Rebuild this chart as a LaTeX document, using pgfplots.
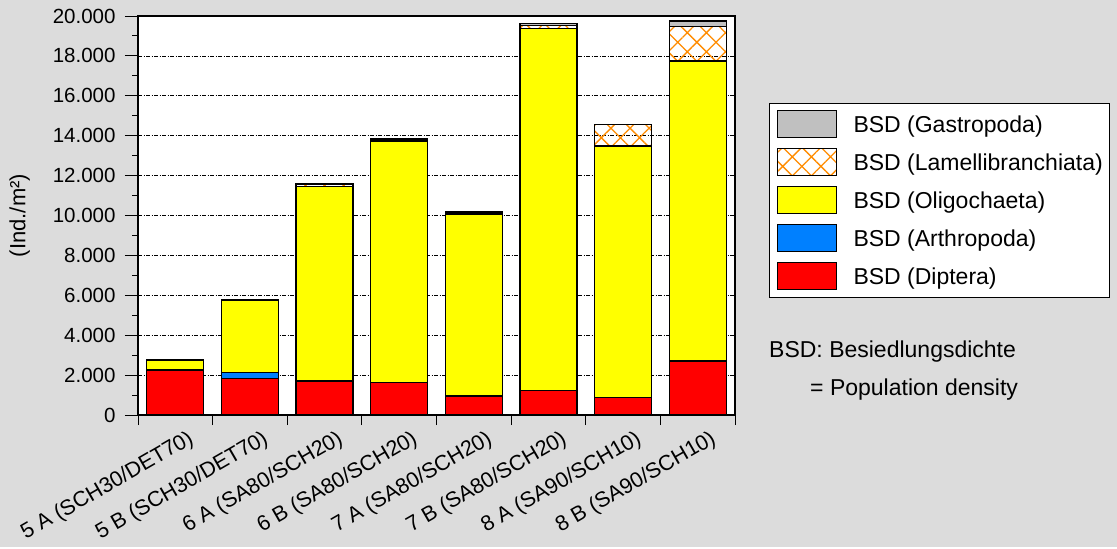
\documentclass[border=0pt]{standalone}
\usepackage{pgfplots}
\pgfplotsset{compat=1.18}
\usepackage{fontspec}
\setmainfont{Liberation Sans}
\usetikzlibrary{patterns.meta}
\definecolor{bg}{RGB}{220,220,220}
\definecolor{myorange}{RGB}{255,140,0}
\definecolor{myblue}{RGB}{0,128,255}
\definecolor{mygray}{RGB}{192,192,192}
\definecolor{myyellow}{RGB}{255,255,0}
\definecolor{myred}{RGB}{255,0,0}
\pgfplotsset{myleg/.style={legend image code/.code={\draw[##1, line width=1pt] (6pt,-13.5pt) rectangle (65pt,13.5pt);}}}
\begin{document}
\begin{tikzpicture}[x=1pt,y=1pt]
\fill[bg] (0,0) rectangle (1117,-547);
\begin{axis}[
 at={(138pt,-415pt)}, anchor=south west,
 scale only axis, width=597pt, height=399pt,
 xmin=0.5, xmax=8.5, ymin=0, ymax=20000,
 ybar stacked, bar width=57pt,
 axis background/.style={fill=white},
 axis line style={black, line width=1.3pt},
 tick align=outside,
 ytick={0,2000,...,20000}, minor ytick={1000,3000,...,19000},
 ytick pos=left, xtick pos=bottom,
 major tick length=13pt, minor tick length=6pt,
 tick style={black, line width=1pt},
 scaled y ticks=false,
 /pgf/number format/1000 sep={.}, /pgf/number format/assume math mode=true,
 yticklabel style={font=\fontsize{20.5}{24}\selectfont, xshift=-6pt},
 xtick={1,...,8},
 xticklabels={5 A (SCH30/DET70),5 B (SCH30/DET70),6 A (SA80/SCH20),6 B (SA80/SCH20),7 A (SA80/SCH20),7 B (SA80/SCH20),8 A (SA90/SCH10),8 B (SA90/SCH10)},
 xtick style={draw=none},
 xticklabel style={rotate=30, anchor=north east, font=\fontsize{21.5}{25}\selectfont, xshift=13pt, yshift=-3pt},
 extra x ticks={0.5,1.5,...,8.5}, extra x tick labels={},
 extra x tick style={xtick style={draw=black, /pgfplots/major tick length=10pt}, grid=none},
 ymajorgrids, grid style={black, line width=0.8pt, dash pattern=on 4pt off 1.5pt on 1pt off 1.5pt},
 ylabel={(Ind./m²)},
 every axis y label/.style={at={(axis description cs:-0.198,0.5)}, rotate=90, anchor=center, font=\fontsize{22}{26}\selectfont},
 legend style={at={(axis description cs:1.0570,0.782)}, anchor=north west, draw=black, line width=1pt, fill=white, font=\fontsize{23}{27}\selectfont, inner xsep=7pt, inner ysep=7pt, row sep=10pt, nodes={inner sep=0pt, anchor=west}, /tikz/every odd column/.append style={column sep=17pt}},
 legend cell align=left, reverse legend,
]
\addplot[myleg, fill=myred, draw=black, line width=1.3pt] coordinates {(1,2220) (2,1840) (3,1700) (4,1620) (5,950) (6,1220) (7,890) (8,2710)};
\addplot[myleg, fill=myblue, draw=black, line width=1.3pt] coordinates {(1,40) (2,280) (3,0) (4,0) (5,0) (6,0) (7,0) (8,0)};
\addplot[myleg, fill=myyellow, draw=black, line width=1.3pt] coordinates {(1,500) (2,3640) (3,9740) (4,12110) (5,9110) (6,18160) (7,12590) (8,15030)};
\addplot[myleg, pattern={Hatch[angle=45,distance=13.5pt,line width=1.3pt]}, pattern color=myorange, draw=black, line width=1.3pt] coordinates {(1,0) (2,20) (3,120) (4,50) (5,60) (6,130) (7,1070) (8,1740)};
\addplot[myleg, fill=mygray, draw=black, line width=1.3pt] coordinates {(1,0) (2,0) (3,50) (4,50) (5,50) (6,120) (7,0) (8,270)};
\legend{BSD (Diptera),BSD (Arthropoda),BSD (Oligochaeta),BSD (Lamellibranchiata),BSD (Gastropoda)}
\end{axis}
\node[anchor=base west, font=\fontsize{23}{27}\selectfont, inner sep=0pt] at (769,-357) {BSD: Besiedlungsdichte};
\node[anchor=base west, font=\fontsize{23}{27}\selectfont, inner sep=0pt] at (810,-395) {= Population density};
\end{tikzpicture}
\end{document}
